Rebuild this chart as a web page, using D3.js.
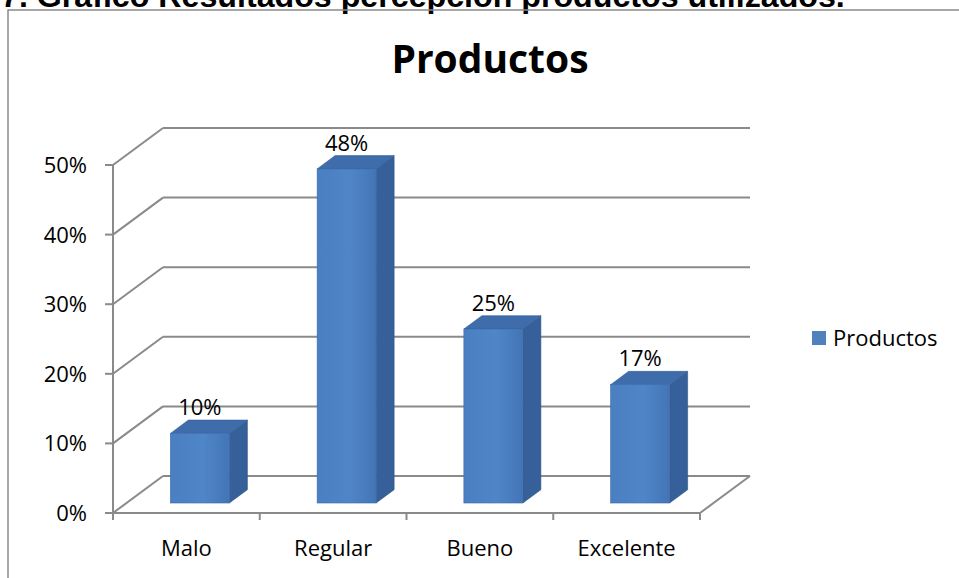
<!DOCTYPE html>
<html><head><meta charset="utf-8">
<script src="https://cdn.jsdelivr.net/npm/d3@7"></script>
<style>html,body{margin:0;padding:0;background:#fff;overflow:hidden}</style>
</head><body>
<svg id="c" width="959" height="578"></svg>
<script>
const categories = ["Malo", "Regular", "Bueno", "Excelente"];
const values = [0.10, 0.48, 0.25, 0.17];
const valueLabels = ["10%", "48%", "25%", "17%"];
const yTicks = [0, 0.1, 0.2, 0.3, 0.4, 0.5];
const seriesName = "Productos";
const chartTitle = "Productos";
const headerText = "7. Gráfico Resultados percepción productos utilizados.";

const svg = d3.select("#c");
const gridColor = "#8a8a8a";
const font = "'Open Sans', sans-serif";

// header (cut off at top)
const hdr = svg.append("text").attr("x", 1).attr("y", 7)
  .attr("font-family", "'Liberation Sans', Arial, sans-serif")
  .attr("font-weight", "bold").attr("font-size", 20).attr("fill", "#000")
  .text(headerText);
const hw = hdr.node().getComputedTextLength();
hdr.attr("font-size", 20 * 844 / hw);

// chart border
svg.append("path").attr("d", "M8,578 L8,10 L959,10")
  .attr("fill", "none").attr("stroke", "#8a8a8a").attr("stroke-width", 1.5);

// scales
const x = d3.scaleBand().domain(categories).range([113, 700]);
const y = d3.scaleLinear().domain([0, 0.5]).range([513, 165]);
const D = [50, -37];          // wall depth
const t0 = 0.27, td = 0.36;   // bar position / depth as fraction of wall depth
const bw = 59;

// grid: left wall diagonals and back wall lines
const g = svg.append("g");
yTicks.forEach(t => {
  g.append("line").attr("x1", 113).attr("y1", y(t)).attr("x2", 113 + D[0]).attr("y2", y(t) + D[1])
    .attr("stroke", gridColor).attr("stroke-width", 2);
  g.append("line").attr("x1", 113 + D[0]).attr("y1", y(t) + D[1]).attr("x2", 700 + D[0]).attr("y2", y(t) + D[1])
    .attr("stroke", gridColor).attr("stroke-width", 2);
});
// floor
g.append("line").attr("x1", 113).attr("y1", y(0)).attr("x2", 700).attr("y2", y(0))
  .attr("stroke", gridColor).attr("stroke-width", 2);
g.append("line").attr("x1", 700).attr("y1", y(0)).attr("x2", 700 + D[0]).attr("y2", y(0) + D[1])
  .attr("stroke", gridColor).attr("stroke-width", 2);
// y axis
g.append("line").attr("x1", 113).attr("y1", y(0.5)).attr("x2", 113).attr("y2", y(0))
  .attr("stroke", gridColor).attr("stroke-width", 2);
yTicks.forEach(t => {
  g.append("line").attr("x1", 105).attr("y1", y(t)).attr("x2", 113).attr("y2", y(t))
    .attr("stroke", gridColor).attr("stroke-width", 2);
  svg.append("text").attr("x", 87).attr("y", y(t)).attr("dy", "0.36em")
    .attr("text-anchor", "end").attr("font-family", font).attr("font-size", 22).attr("fill", "#000")
    .text(d3.format(".0%")(t));
});
// category ticks
[...categories.map(c => x(c)), 700].forEach(px => {
  g.append("line").attr("x1", px).attr("y1", y(0)).attr("x2", px).attr("y2", y(0) + 7)
    .attr("stroke", gridColor).attr("stroke-width", 2);
});
categories.forEach(c => {
  svg.append("text").attr("x", x(c) + x.bandwidth() / 2).attr("y", 556)
    .attr("text-anchor", "middle").attr("font-family", font).attr("font-size", 22).attr("fill", "#000")
    .text(c);
});

// gradients
const defs = svg.append("defs");
const gf = defs.append("linearGradient").attr("id", "front").attr("x1", 0).attr("x2", 1).attr("y1", 0).attr("y2", 0);
gf.append("stop").attr("offset", "0%").attr("stop-color", "#4a7fc2");
gf.append("stop").attr("offset", "55%").attr("stop-color", "#4f86c8");
gf.append("stop").attr("offset", "100%").attr("stop-color", "#4375b6");

// bars
const bars = svg.append("g");
categories.forEach((c, i) => {
  const v = values[i];
  const x0 = x(c) + x.bandwidth() / 2 - bw / 2 + D[0] * t0;
  const x1 = x0 + bw;
  const yt = y(v) + D[1] * t0;
  const yb = y(0) + D[1] * t0;
  const dx = D[0] * td, dy = D[1] * td;
  bars.append("polygon")
    .attr("points", [[x1, yt], [x1 + dx, yt + dy], [x1 + dx, yb + dy], [x1, yb]].join(" "))
    .attr("fill", "#35609a").attr("stroke", "#2f5587").attr("stroke-width", 0.6);
  bars.append("polygon")
    .attr("points", [[x0, yt], [x0 + dx, yt + dy], [x1 + dx, yt + dy], [x1, yt]].join(" "))
    .attr("fill", "#3f6cab").attr("stroke", "#34609a").attr("stroke-width", 0.6);
  bars.append("rect").attr("x", x0).attr("y", yt).attr("width", bw).attr("height", yb - yt)
    .attr("fill", "url(#front)").attr("stroke", "#3d6aa8").attr("stroke-width", 0.6);
  svg.append("text").attr("x", x0 + bw / 2).attr("y", yt + dy - 5)
    .attr("text-anchor", "middle").attr("font-family", font).attr("font-size", 22).attr("fill", "#000")
    .text(valueLabels[i]);
});

// title
svg.append("text").attr("x", 490).attr("y", 73).attr("text-anchor", "middle")
  .attr("font-family", font).attr("font-weight", "bold").attr("font-size", 39).attr("fill", "#000")
  .text(chartTitle);

// legend
svg.append("rect").attr("x", 812).attr("y", 331).attr("width", 14).attr("height", 14).attr("fill", "#4f81bd");
svg.append("text").attr("x", 833).attr("y", 346).attr("font-family", font).attr("font-size", 22).attr("fill", "#000")
  .text(seriesName);
</script>
</body></html>
